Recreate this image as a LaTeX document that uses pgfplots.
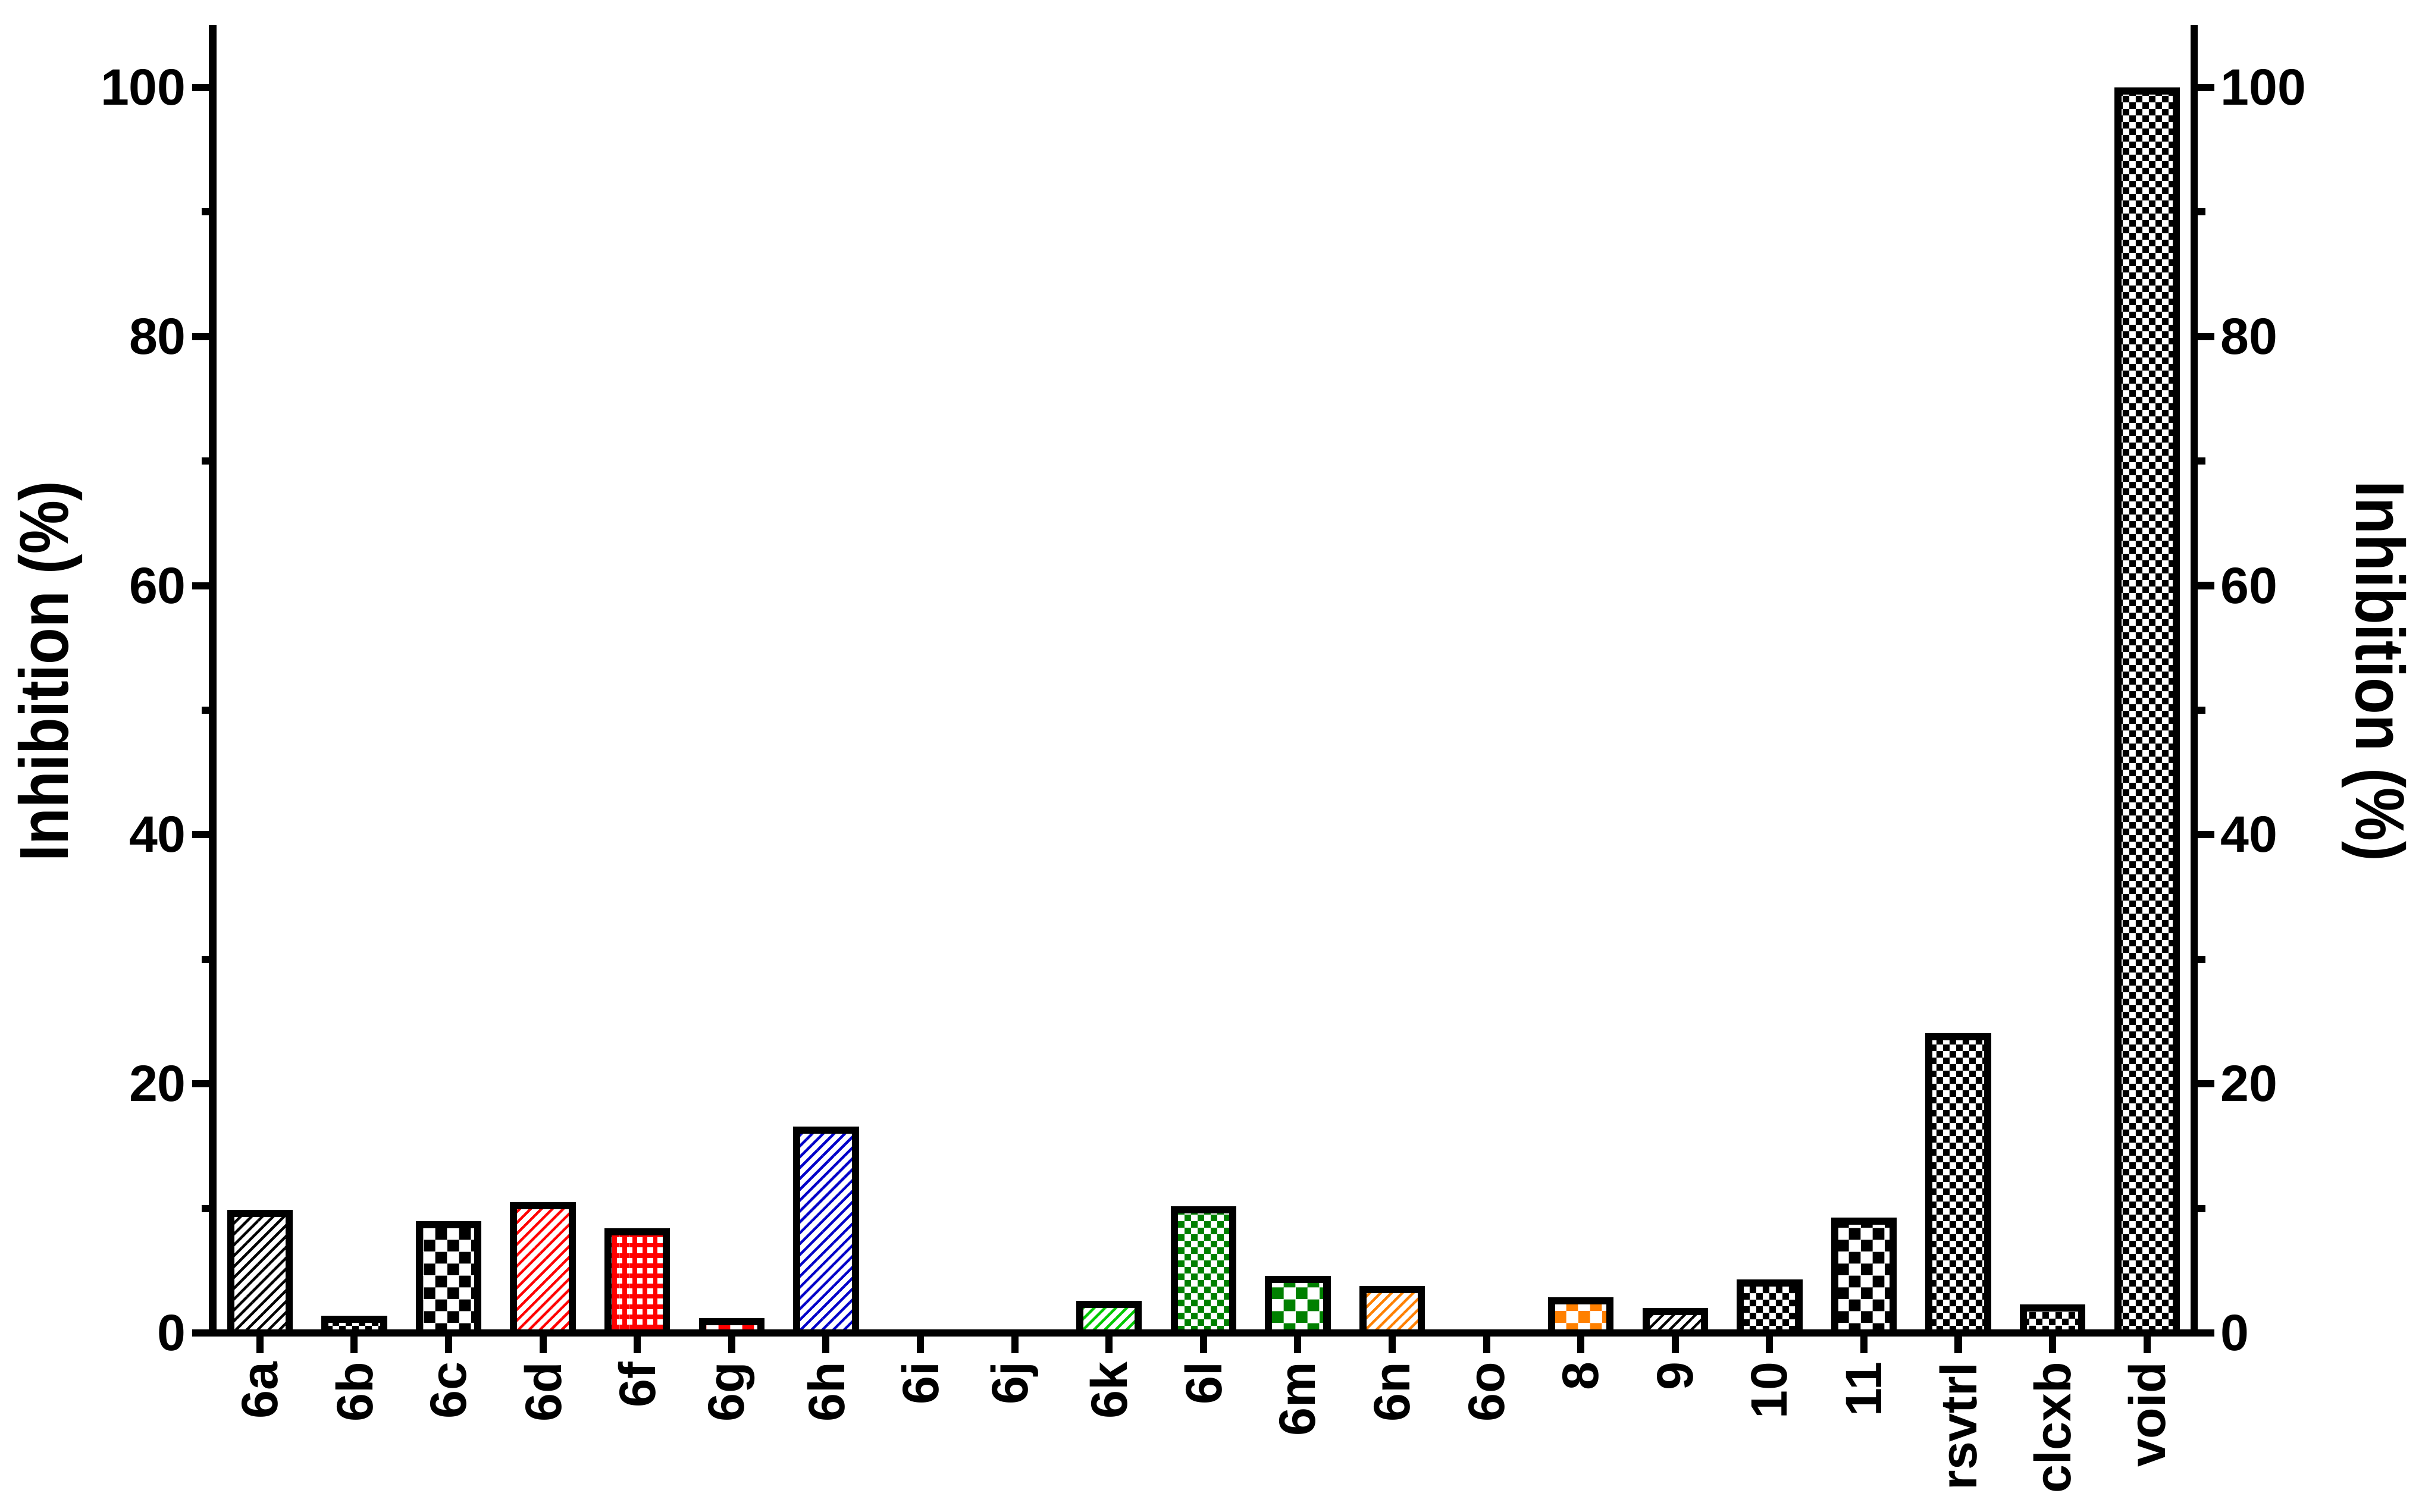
\documentclass[border=0pt]{standalone}
\usepackage{fontspec}
\setmainfont{Liberation Sans}
\newfontfamily\labfont[FakeStretch=0.87]{Liberation Sans}
\usepackage{pgfplots}
\pgfplotsset{compat=1.18}
\usetikzlibrary{patterns,patterns.meta}

\definecolor{cred}{RGB}{255,0,0}
\definecolor{cblue}{RGB}{0,0,200}
\definecolor{cgreen}{RGB}{0,200,0}
\definecolor{cdkgreen}{RGB}{0,128,0}
\definecolor{corange}{RGB}{255,128,0}

% checkerboards, coarse and fine
\pgfdeclarepatternformonly{bigcheck}{\pgfpointorigin}{\pgfqpoint{4.6pt}{4.6pt}}{\pgfqpoint{4.6pt}{4.6pt}}{%
  \pgfpathrectangle{\pgfpointorigin}{\pgfqpoint{2.3pt}{2.3pt}}%
  \pgfpathrectangle{\pgfqpoint{2.3pt}{2.3pt}}{\pgfqpoint{2.3pt}{2.3pt}}%
  \pgfusepath{fill}}
\pgfdeclarepatternformonly{smallcheck}{\pgfpointorigin}{\pgfqpoint{2.6pt}{2.6pt}}{\pgfqpoint{2.6pt}{2.6pt}}{%
  \pgfpathrectangle{\pgfpointorigin}{\pgfqpoint{1.3pt}{1.3pt}}%
  \pgfpathrectangle{\pgfqpoint{1.3pt}{1.3pt}}{\pgfqpoint{1.3pt}{1.3pt}}%
  \pgfusepath{fill}}

\pgfplotsset{
  bx/.style={ybar, bar width=0.62, bar shift=0pt, draw=black, line width=1.4pt},
  hatch/.style={bx, pattern={Lines[angle=45,distance=1.5pt,line width=0.5pt]}, pattern color=#1},
  bchk/.style={bx, pattern=bigcheck, pattern color=#1},
  schk/.style={bx, pattern=smallcheck, pattern color=#1},
  grd/.style={bx, pattern={Hatch[angle=0,distance=2pt,line width=0.9pt]}, pattern color=#1},
  common/.style={
    scale only axis, width=387pt, height=255.5pt,
    xmin=-0.5, xmax=20.5, ymin=0, ymax=105,
    axis line style={line width=1.4pt},
    tick style={line width=1.4pt, black},
    tick align=outside,
    major tick length=4pt, minor tick length=2.2pt,
    ytick={0,20,...,100}, minor ytick={10,30,...,90},
    /pgf/number format/assume math mode=true,
    yticklabel style={font=\bfseries, inner xsep=1pt},
  },
}

\begin{document}
\begin{tikzpicture}
\begin{axis}[
  common,
  axis x line*=bottom, axis y line*=left,
  xtick={0,...,20},
  xticklabels={6a,6b,6c,6d,6f,6g,6h,6i,6j,6k,6l,6m,6n,6o,8,9,10,11,rsvtrl,clcxb,void},
  xticklabel style={font=\bfseries, rotate=90, anchor=east, inner xsep=1.5pt},
  ylabel={\labfont\fontsize{13.5}{16}\selectfont\bfseries Inhibition (\%)},
  every axis y label/.style={at={(axis description cs:-0.0729,0.506)}, anchor=base, rotate=90, inner sep=0pt},
]
% 6i, 6j and 6o are 0
\addplot[hatch=black]     coordinates {(0,9.6)};
\addplot[schk=black]      coordinates {(1,1.1)};
\addplot[bchk=black]      coordinates {(2,8.7)};
\addplot[hatch=cred]      coordinates {(3,10.2)};
\addplot[grd=cred]        coordinates {(4,8.1)};
\addplot[bchk=cred]       coordinates {(5,0.9)};
\addplot[hatch=cblue]     coordinates {(6,16.3)};
\addplot[hatch=cgreen]    coordinates {(9,2.3)};
\addplot[schk=cdkgreen]   coordinates {(10,9.9)};
\addplot[bchk=cdkgreen]   coordinates {(11,4.3)};
\addplot[hatch=corange]   coordinates {(12,3.5)};
\addplot[bchk=corange]    coordinates {(14,2.6)};
\addplot[hatch=black]     coordinates {(15,1.7)};
\addplot[schk=black]      coordinates {(16,4.0)};
\addplot[bchk=black]      coordinates {(17,9.0)};
\addplot[schk=black]      coordinates {(18,23.8)};
\addplot[schk=black]      coordinates {(19,2.0)};
\addplot[schk=black]      coordinates {(20,99.7)};
\end{axis}

\begin{axis}[
  common,
  axis x line=none, axis y line*=right,
  ylabel={\labfont\fontsize{13.5}{16}\selectfont\bfseries Inhibition (\%)},
  every axis y label/.style={at={(axis description cs:1.0817,0.506)}, anchor=base, rotate=-90, inner sep=0pt},
]
\addplot[draw=none] coordinates {(0,0)};
\end{axis}

\pgfresetboundingbox
\path[use as bounding box] (-41.54pt,-34.86pt) rectangle (431.51pt,260.40pt);
\end{tikzpicture}
\end{document}
